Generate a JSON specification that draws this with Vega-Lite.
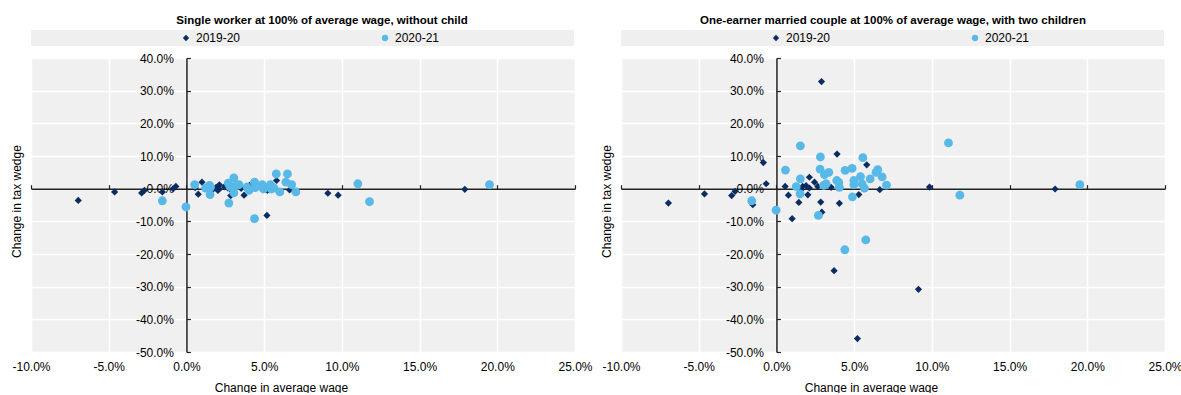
{
  "$schema": "https://vega.github.io/schema/vega-lite/v6.json",
  "background": "white",
  "padding": {"left": 10, "top": 14, "right": 5, "bottom": 0},
  "config": {
    "font": "Liberation Sans",
    "view": {"stroke": null, "fill": "#f0f0f0"},
    "axis": {
      "labelFont": "Liberation Sans", "labelFontSize": 12, "labelColor": "#000000",
      "titleFont": "Liberation Sans", "titleFontSize": 12, "titleFontWeight": "normal", "titleColor": "#000000",
      "gridColor": "#ffffff", "gridWidth": 1.5, "gridOpacity": 1,
      "domainColor": "#222222", "tickColor": "#222222", "domainWidth": 1.5, "tickWidth": 1.2,
      "labelFlush": false, "labelOverlap": false
    },
    "legend": {"labelFont": "Liberation Sans", "labelFontSize": 12, "labelColor": "#000000",
      "orient": "none", "direction": "horizontal", "fillColor": "#efefef", "padding": 2,
      "labelOffset": 4, "symbolSize": 40, "symbolStrokeWidth": 0, "titleOrient": "right"},
    "title": {"font": "Liberation Sans", "fontSize": 11.5, "fontWeight": "bold", "color": "#000000", "anchor": "middle", "offset": 4}
  },
  "datasets": {
    "single": [
      {"period": "2019-20", "wage": -6.96, "wedge": -3.6},
      {"period": "2019-20", "wage": -4.62, "wedge": -1.0},
      {"period": "2019-20", "wage": -2.88, "wedge": -1.3},
      {"period": "2019-20", "wage": -2.7, "wedge": -0.5},
      {"period": "2019-20", "wage": -1.55, "wedge": -1.0},
      {"period": "2019-20", "wage": -0.85, "wedge": 0.0},
      {"period": "2019-20", "wage": -0.68, "wedge": 0.7},
      {"period": "2019-20", "wage": 0.56, "wedge": 0.3},
      {"period": "2019-20", "wage": 0.76, "wedge": -1.7},
      {"period": "2019-20", "wage": 1.0, "wedge": 2.0},
      {"period": "2019-20", "wage": 1.44, "wedge": 0.3},
      {"period": "2019-20", "wage": 1.59, "wedge": 0.6},
      {"period": "2019-20", "wage": 1.69, "wedge": -0.3},
      {"period": "2019-20", "wage": 1.91, "wedge": 0.4},
      {"period": "2019-20", "wage": 2.02, "wedge": -0.5},
      {"period": "2019-20", "wage": 2.12, "wedge": 1.2},
      {"period": "2019-20", "wage": 2.12, "wedge": -0.1},
      {"period": "2019-20", "wage": 2.45, "wedge": 0.6},
      {"period": "2019-20", "wage": 2.66, "wedge": 0.2},
      {"period": "2019-20", "wage": 2.85, "wedge": -2.1},
      {"period": "2019-20", "wage": 2.9, "wedge": 0.9},
      {"period": "2019-20", "wage": 2.92, "wedge": -0.6},
      {"period": "2019-20", "wage": 3.52, "wedge": 0.1},
      {"period": "2019-20", "wage": 3.71, "wedge": -2.0},
      {"period": "2019-20", "wage": 3.9, "wedge": 0.5},
      {"period": "2019-20", "wage": 4.05, "wedge": 1.0},
      {"period": "2019-20", "wage": 5.18, "wedge": -8.2},
      {"period": "2019-20", "wage": 5.21, "wedge": -0.5},
      {"period": "2019-20", "wage": 5.8, "wedge": 2.5},
      {"period": "2019-20", "wage": 6.64, "wedge": -0.4},
      {"period": "2019-20", "wage": 9.1, "wedge": -1.4},
      {"period": "2019-20", "wage": 9.76, "wedge": -2.0},
      {"period": "2019-20", "wage": 17.91, "wedge": -0.2},
      {"period": "2020-21", "wage": -1.55, "wedge": -3.7},
      {"period": "2020-21", "wage": -0.03, "wedge": -5.6},
      {"period": "2020-21", "wage": 0.53, "wedge": 1.2},
      {"period": "2020-21", "wage": 1.23, "wedge": 0.2},
      {"period": "2020-21", "wage": 1.49, "wedge": 1.0},
      {"period": "2020-21", "wage": 1.52, "wedge": -1.8},
      {"period": "2020-21", "wage": 1.55, "wedge": 0.5},
      {"period": "2020-21", "wage": 2.69, "wedge": 1.7},
      {"period": "2020-21", "wage": 2.73, "wedge": -4.4},
      {"period": "2020-21", "wage": 2.8, "wedge": 0.6},
      {"period": "2020-21", "wage": 3.05, "wedge": 3.3},
      {"period": "2020-21", "wage": 3.05, "wedge": -1.3},
      {"period": "2020-21", "wage": 3.2, "wedge": 0.9},
      {"period": "2020-21", "wage": 3.38, "wedge": 1.2},
      {"period": "2020-21", "wage": 3.9, "wedge": 0.5},
      {"period": "2020-21", "wage": 4.02, "wedge": -0.5},
      {"period": "2020-21", "wage": 4.38, "wedge": 2.0},
      {"period": "2020-21", "wage": 4.38, "wedge": -9.2},
      {"period": "2020-21", "wage": 4.42, "wedge": 0.3},
      {"period": "2020-21", "wage": 4.88, "wedge": 1.2},
      {"period": "2020-21", "wage": 4.9, "wedge": 0.6},
      {"period": "2020-21", "wage": 4.96, "wedge": -0.1},
      {"period": "2020-21", "wage": 4.98, "wedge": 0.2},
      {"period": "2020-21", "wage": 5.41, "wedge": 1.2},
      {"period": "2020-21", "wage": 5.45, "wedge": -0.1},
      {"period": "2020-21", "wage": 5.56, "wedge": 0.3},
      {"period": "2020-21", "wage": 5.63, "wedge": 0.2},
      {"period": "2020-21", "wage": 5.78, "wedge": 4.5},
      {"period": "2020-21", "wage": 6.01, "wedge": -1.0},
      {"period": "2020-21", "wage": 6.4, "wedge": 2.0},
      {"period": "2020-21", "wage": 6.5, "wedge": 4.5},
      {"period": "2020-21", "wage": 6.77, "wedge": 1.2},
      {"period": "2020-21", "wage": 7.04, "wedge": -1.0},
      {"period": "2020-21", "wage": 11.03, "wedge": 1.5},
      {"period": "2020-21", "wage": 11.78, "wedge": -4.0},
      {"period": "2020-21", "wage": 19.5, "wedge": 1.2}
    ],
    "couple": [
      {"period": "2019-20", "wage": -6.95, "wedge": -4.4},
      {"period": "2019-20", "wage": -4.63, "wedge": -1.6},
      {"period": "2019-20", "wage": -2.88, "wedge": -2.1},
      {"period": "2019-20", "wage": -2.66, "wedge": -0.8},
      {"period": "2019-20", "wage": -1.52, "wedge": -4.9},
      {"period": "2019-20", "wage": -0.84, "wedge": 8.0},
      {"period": "2019-20", "wage": -0.66, "wedge": 1.5},
      {"period": "2019-20", "wage": 0.56, "wedge": 0.7},
      {"period": "2019-20", "wage": 0.77, "wedge": -2.0},
      {"period": "2019-20", "wage": 1.01, "wedge": -9.2},
      {"period": "2019-20", "wage": 1.44, "wedge": -4.2},
      {"period": "2019-20", "wage": 1.59, "wedge": -0.3},
      {"period": "2019-20", "wage": 1.69, "wedge": 0.7},
      {"period": "2019-20", "wage": 1.91, "wedge": 0.9},
      {"period": "2019-20", "wage": 2.02, "wedge": -1.9},
      {"period": "2019-20", "wage": 2.12, "wedge": 3.5},
      {"period": "2019-20", "wage": 2.12, "wedge": 0.2},
      {"period": "2019-20", "wage": 2.45, "wedge": 2.0},
      {"period": "2019-20", "wage": 2.66, "wedge": 0.7},
      {"period": "2019-20", "wage": 2.85, "wedge": -4.1},
      {"period": "2019-20", "wage": 2.9, "wedge": 32.8},
      {"period": "2019-20", "wage": 2.92, "wedge": -7.2},
      {"period": "2019-20", "wage": 3.52, "wedge": 0.4},
      {"period": "2019-20", "wage": 3.71, "wedge": -25.1},
      {"period": "2019-20", "wage": 3.9, "wedge": 10.6},
      {"period": "2019-20", "wage": 4.05, "wedge": -4.5},
      {"period": "2019-20", "wage": 5.21, "wedge": -45.9},
      {"period": "2019-20", "wage": 5.3, "wedge": -1.8},
      {"period": "2019-20", "wage": 5.81, "wedge": 7.3},
      {"period": "2019-20", "wage": 6.65, "wedge": -0.3},
      {"period": "2019-20", "wage": 9.14, "wedge": -30.8},
      {"period": "2019-20", "wage": 9.85, "wedge": 0.5},
      {"period": "2019-20", "wage": 17.93, "wedge": -0.1},
      {"period": "2020-21", "wage": -1.59, "wedge": -3.7},
      {"period": "2020-21", "wage": -0.02, "wedge": -6.6},
      {"period": "2020-21", "wage": 0.58, "wedge": 5.7},
      {"period": "2020-21", "wage": 1.27, "wedge": 0.6},
      {"period": "2020-21", "wage": 1.52, "wedge": -1.6},
      {"period": "2020-21", "wage": 1.54, "wedge": 13.1},
      {"period": "2020-21", "wage": 1.54, "wedge": 3.0},
      {"period": "2020-21", "wage": 2.7, "wedge": -8.2},
      {"period": "2020-21", "wage": 2.81, "wedge": 6.0},
      {"period": "2020-21", "wage": 2.83, "wedge": 9.7},
      {"period": "2020-21", "wage": 3.04, "wedge": 1.0},
      {"period": "2020-21", "wage": 3.09, "wedge": 4.3},
      {"period": "2020-21", "wage": 3.2, "wedge": 1.5},
      {"period": "2020-21", "wage": 3.37, "wedge": 5.0},
      {"period": "2020-21", "wage": 3.88, "wedge": 2.5},
      {"period": "2020-21", "wage": 4.01, "wedge": 1.9},
      {"period": "2020-21", "wage": 4.05, "wedge": 0.4},
      {"period": "2020-21", "wage": 4.4, "wedge": -18.7},
      {"period": "2020-21", "wage": 4.42, "wedge": 5.6},
      {"period": "2020-21", "wage": 4.87, "wedge": 6.2},
      {"period": "2020-21", "wage": 4.89, "wedge": -2.5},
      {"period": "2020-21", "wage": 4.98, "wedge": 2.5},
      {"period": "2020-21", "wage": 4.98, "wedge": 1.2},
      {"period": "2020-21", "wage": 5.41, "wedge": 3.7},
      {"period": "2020-21", "wage": 5.51, "wedge": 1.5},
      {"period": "2020-21", "wage": 5.56, "wedge": 9.5},
      {"period": "2020-21", "wage": 5.66, "wedge": 0.2},
      {"period": "2020-21", "wage": 5.75, "wedge": -15.7},
      {"period": "2020-21", "wage": 6.03, "wedge": 3.0},
      {"period": "2020-21", "wage": 6.41, "wedge": 5.0},
      {"period": "2020-21", "wage": 6.52, "wedge": 5.8},
      {"period": "2020-21", "wage": 6.8, "wedge": 3.6},
      {"period": "2020-21", "wage": 7.08, "wedge": 1.1},
      {"period": "2020-21", "wage": 11.07, "wedge": 14.0},
      {"period": "2020-21", "wage": 11.8, "wedge": -2.0},
      {"period": "2020-21", "wage": 19.52, "wedge": 1.2}
    ]
  },
  "bounds": "flush",
  "spacing": 46,
  "resolve": {"scale": {"color": "independent", "shape": "independent"}},
  "hconcat": [
    {
      "title": {"text": "Single worker at 100% of average wage, without child", "dx": 19},
      "width": 544,
      "height": 294,
      "data": {"name": "single"},
      "resolve": {"axis": {"x": "independent", "y": "independent"}},
      "layer": [
        {
          "transform": [{"filter": "datum.period === '2019-20'"}],
          "mark": {"type": "point", "filled": true, "opacity": 1, "size": 52},
          "encoding": {
            "x": {"field": "wage", "type": "quantitative",
              "scale": {"domain": [-10, 25], "nice": false, "zero": false},
              "axis": {"orient": "bottom", "values": [-10, -5, 0, 5, 10, 15, 20, 25],
                "labelExpr": "(datum.value < 0 ? '-' : '') + format(abs(datum.value), '.1f') + '%'",
                "domain": false, "ticks": false, "grid": true, "labelPadding": 9,
                "title": "Change in average wage", "titlePadding": 10, "titleX": 250, "zindex": 0}},
            "y": {"field": "wedge", "type": "quantitative",
              "scale": {"domain": [-50, 40], "nice": false, "zero": false},
              "axis": {"orient": "left", "values": [-50, -40, -30, -20, -10, 0, 10, 20, 30, 40],
                "labels": false, "domain": false, "ticks": false, "grid": true,
                "title": "Change in tax wedge", "titlePadding": 8, "titleY": 143, "zindex": 0}},
            "color": {"field": "period", "type": "nominal",
              "scale": {"domain": ["2019-20", "2020-21"], "range": ["#0b2c62", "#58b9e8"]},
              "legend": {"values": ["2019-20"], "symbolType": "diamond", "legendX": 0, "legendY": -28,
                "symbolOffset": 147, "title": " ", "titlePadding": 50}},
            "shape": {"field": "period", "type": "nominal",
              "scale": {"domain": ["2020-21", "2019-20"], "range": ["circle", "diamond"]},
              "legend": {"values": ["2020-21"], "symbolFillColor": "#58b9e8", "legendX": 250, "legendY": -28,
                "symbolOffset": 96, "title": " ", "titlePadding": 133}}
          }
        },
        {
          "transform": [{"filter": "datum.period === '2020-21'"}],
          "mark": {"type": "point", "filled": true, "opacity": 1, "size": 78},
          "encoding": {
            "x": {"field": "wage", "type": "quantitative",
              "axis": {"orient": "top", "offset": -130.67, "values": [-10, -5, 0, 5, 10, 15, 20, 25],
                "labels": false, "domain": true, "ticks": true, "tickSize": 4, "grid": false,
                "title": null, "zindex": 0}},
            "y": {"field": "wedge", "type": "quantitative",
              "axis": {"orient": "right", "offset": -388.57, "values": [-50, -40, -30, -20, -10, 0, 10, 20, 30, 40],
                "labelExpr": "(datum.value < 0 ? '-' : '') + format(abs(datum.value), '.1f') + '%'",
                "labelAlign": "right", "labelPadding": -17, "domain": true, "ticks": true, "tickSize": 4,
                "grid": false, "title": null, "zindex": 0}},
            "color": {"field": "period", "type": "nominal"},
            "shape": {"field": "period", "type": "nominal"}
          }
        }
      ]
    },
    {
      "title": {"text": "One-earner married couple at 100% of average wage, with two children"},
      "width": 544,
      "height": 294,
      "data": {"name": "couple"},
      "resolve": {"axis": {"x": "independent", "y": "independent"}},
      "layer": [
        {
          "transform": [{"filter": "datum.period === '2019-20'"}],
          "mark": {"type": "point", "filled": true, "opacity": 1, "size": 52},
          "encoding": {
            "x": {"field": "wage", "type": "quantitative",
              "scale": {"domain": [-10, 25], "nice": false, "zero": false},
              "axis": {"orient": "bottom", "values": [-10, -5, 0, 5, 10, 15, 20, 25],
                "labelExpr": "(datum.value < 0 ? '-' : '') + format(abs(datum.value), '.1f') + '%'",
                "domain": false, "ticks": false, "grid": true, "labelPadding": 9,
                "title": "Change in average wage", "titlePadding": 10, "titleX": 250, "zindex": 0}},
            "y": {"field": "wedge", "type": "quantitative",
              "scale": {"domain": [-50, 40], "nice": false, "zero": false},
              "axis": {"orient": "left", "values": [-50, -40, -30, -20, -10, 0, 10, 20, 30, 40],
                "labels": false, "domain": false, "ticks": false, "grid": true,
                "title": "Change in tax wedge", "titlePadding": 8, "titleY": 143, "zindex": 0}},
            "color": {"field": "period", "type": "nominal",
              "scale": {"domain": ["2019-20", "2020-21"], "range": ["#0b2c62", "#58b9e8"]},
              "legend": {"values": ["2019-20"], "symbolType": "diamond", "legendX": 0, "legendY": -28,
                "symbolOffset": 147, "title": " ", "titlePadding": 50}},
            "shape": {"field": "period", "type": "nominal",
              "scale": {"domain": ["2020-21", "2019-20"], "range": ["circle", "diamond"]},
              "legend": {"values": ["2020-21"], "symbolFillColor": "#58b9e8", "legendX": 250, "legendY": -28,
                "symbolOffset": 96, "title": " ", "titlePadding": 133}}
          }
        },
        {
          "transform": [{"filter": "datum.period === '2020-21'"}],
          "mark": {"type": "point", "filled": true, "opacity": 1, "size": 78},
          "encoding": {
            "x": {"field": "wage", "type": "quantitative",
              "axis": {"orient": "top", "offset": -130.67, "values": [-10, -5, 0, 5, 10, 15, 20, 25],
                "labels": false, "domain": true, "ticks": true, "tickSize": 4, "grid": false,
                "title": null, "zindex": 0}},
            "y": {"field": "wedge", "type": "quantitative",
              "axis": {"orient": "right", "offset": -388.57, "values": [-50, -40, -30, -20, -10, 0, 10, 20, 30, 40],
                "labelExpr": "(datum.value < 0 ? '-' : '') + format(abs(datum.value), '.1f') + '%'",
                "labelAlign": "right", "labelPadding": -17, "domain": true, "ticks": true, "tickSize": 4,
                "grid": false, "title": null, "zindex": 0}},
            "color": {"field": "period", "type": "nominal"},
            "shape": {"field": "period", "type": "nominal"}
          }
        }
      ]
    }
  ]
}
